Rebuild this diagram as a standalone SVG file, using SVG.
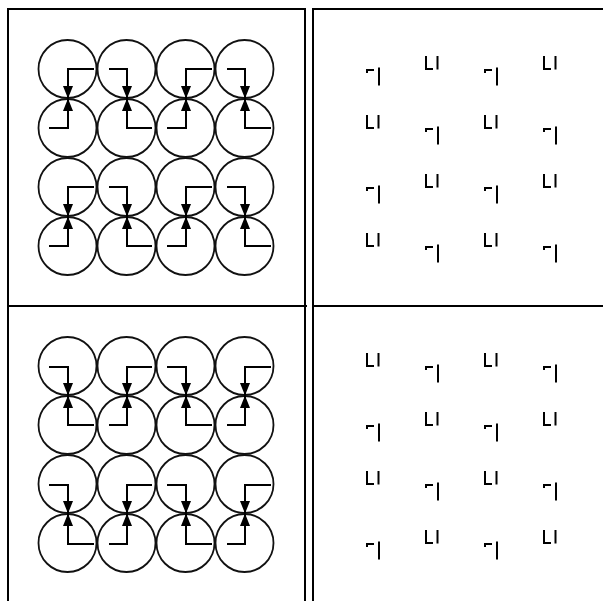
<svg xmlns="http://www.w3.org/2000/svg" xmlns:xlink="http://www.w3.org/1999/xlink" width="603" height="601" viewBox="0 0 603 601">
<style>
.frame{fill:none;stroke:#000;stroke-width:2}
.node{fill:none;stroke:#111;stroke-width:1.8}
.conn{fill:none;stroke:#000;stroke-width:2;marker-end:url(#arrow)}
.mark{fill:none;stroke:#000;stroke-width:2}
</style>
<defs>
<marker id="arrow" markerUnits="userSpaceOnUse" markerWidth="13" markerHeight="11" refX="12.5" refY="5.5" viewBox="0 0 13 11" orient="auto"><path d="M0 0.5L12.5 5.5L0 10.5Z" fill="#000"/></marker>
<g id="ga"><path class="mark" d="M367 73V70H374M379 67.5V85.5"/></g>
<g id="gb"><path class="mark" d="M426 56V69H433M437.5 56V69.5"/></g>
</defs>
<rect width="603" height="601" fill="#fff"/>
<g id="frame">
<path class="frame" d="M8 601V9H305V601M313 601V9H603M8 306H307M313 306H603"/>
</g>
<g id="panel-top-left">
<circle id="t11" class="node" cx="67.5" cy="69" r="29"/><circle id="t12" class="node" cx="126.5" cy="69" r="29"/><circle id="t13" class="node" cx="185.5" cy="69" r="29"/><circle id="t14" class="node" cx="244.5" cy="69" r="29"/>
<circle id="t21" class="node" cx="67.5" cy="128" r="29"/><circle id="t22" class="node" cx="126.5" cy="128" r="29"/><circle id="t23" class="node" cx="185.5" cy="128" r="29"/><circle id="t24" class="node" cx="244.5" cy="128" r="29"/>
<circle id="t31" class="node" cx="67.5" cy="187" r="29"/><circle id="t32" class="node" cx="126.5" cy="187" r="29"/><circle id="t33" class="node" cx="185.5" cy="187" r="29"/><circle id="t34" class="node" cx="244.5" cy="187" r="29"/>
<circle id="t41" class="node" cx="67.5" cy="246" r="29"/><circle id="t42" class="node" cx="126.5" cy="246" r="29"/><circle id="t43" class="node" cx="185.5" cy="246" r="29"/><circle id="t44" class="node" cx="244.5" cy="246" r="29"/>
</g>
<g id="panel-bottom-left">
<circle id="b11" class="node" cx="67.5" cy="366" r="29"/><circle id="b12" class="node" cx="126.5" cy="366" r="29"/><circle id="b13" class="node" cx="185.5" cy="366" r="29"/><circle id="b14" class="node" cx="244.5" cy="366" r="29"/>
<circle id="b21" class="node" cx="67.5" cy="425" r="29"/><circle id="b22" class="node" cx="126.5" cy="425" r="29"/><circle id="b23" class="node" cx="185.5" cy="425" r="29"/><circle id="b24" class="node" cx="244.5" cy="425" r="29"/>
<circle id="b31" class="node" cx="67.5" cy="484" r="29"/><circle id="b32" class="node" cx="126.5" cy="484" r="29"/><circle id="b33" class="node" cx="185.5" cy="484" r="29"/><circle id="b34" class="node" cx="244.5" cy="484" r="29"/>
<circle id="b41" class="node" cx="67.5" cy="543" r="29"/><circle id="b42" class="node" cx="126.5" cy="543" r="29"/><circle id="b43" class="node" cx="185.5" cy="543" r="29"/><circle id="b44" class="node" cx="244.5" cy="543" r="29"/>
</g>
<g id="connectors">
<path class="conn" d="M94 69H68V98.5"/><path class="conn" d="M109 69H127V98.5"/><path class="conn" d="M212 69H186V98.5"/><path class="conn" d="M227 69H245V98.5"/>
<path class="conn" d="M49 128H68V98.5"/><path class="conn" d="M152 128H127V98.5"/><path class="conn" d="M167 128H186V98.5"/><path class="conn" d="M271 128H245V98.5"/>
<path class="conn" d="M94 187H68V216.5"/><path class="conn" d="M109 187H127V216.5"/><path class="conn" d="M212 187H186V216.5"/><path class="conn" d="M227 187H245V216.5"/>
<path class="conn" d="M49 246H68V216.5"/><path class="conn" d="M152 246H127V216.5"/><path class="conn" d="M167 246H186V216.5"/><path class="conn" d="M271 246H245V216.5"/>
<path class="conn" d="M49 367H68V395.5"/><path class="conn" d="M152 367H127V395.5"/><path class="conn" d="M167 367H186V395.5"/><path class="conn" d="M271 367H245V395.5"/>
<path class="conn" d="M94 425H68V395.5"/><path class="conn" d="M109 425H127V395.5"/><path class="conn" d="M212 425H186V395.5"/><path class="conn" d="M227 425H245V395.5"/>
<path class="conn" d="M49 485H68V513.5"/><path class="conn" d="M152 485H127V513.5"/><path class="conn" d="M167 485H186V513.5"/><path class="conn" d="M271 485H245V513.5"/>
<path class="conn" d="M94 544H68V513.5"/><path class="conn" d="M109 544H127V513.5"/><path class="conn" d="M212 544H186V513.5"/><path class="conn" d="M227 544H245V513.5"/>
</g>
<g id="panel-top-right">
<use xlink:href="#ga"/><use xlink:href="#gb"/><use xlink:href="#ga" x="118"/><use xlink:href="#gb" x="118"/>
<use xlink:href="#gb" x="-59" y="59"/><use xlink:href="#ga" x="59" y="59"/><use xlink:href="#gb" x="59" y="59"/><use xlink:href="#ga" x="177" y="59"/>
<use xlink:href="#ga" y="118"/><use xlink:href="#gb" y="118"/><use xlink:href="#ga" x="118" y="118"/><use xlink:href="#gb" x="118" y="118"/>
<use xlink:href="#gb" x="-59" y="177"/><use xlink:href="#ga" x="59" y="177"/><use xlink:href="#gb" x="59" y="177"/><use xlink:href="#ga" x="177" y="177"/>
</g>
<g id="panel-bottom-right">
<use xlink:href="#gb" x="-59" y="297"/><use xlink:href="#ga" x="59" y="297"/><use xlink:href="#gb" x="59" y="297"/><use xlink:href="#ga" x="177" y="297"/>
<use xlink:href="#ga" y="356"/><use xlink:href="#gb" y="356"/><use xlink:href="#ga" x="118" y="356"/><use xlink:href="#gb" x="118" y="356"/>
<use xlink:href="#gb" x="-59" y="415"/><use xlink:href="#ga" x="59" y="415"/><use xlink:href="#gb" x="59" y="415"/><use xlink:href="#ga" x="177" y="415"/>
<use xlink:href="#ga" y="474"/><use xlink:href="#gb" y="474"/><use xlink:href="#ga" x="118" y="474"/><use xlink:href="#gb" x="118" y="474"/>
</g>
</svg>
